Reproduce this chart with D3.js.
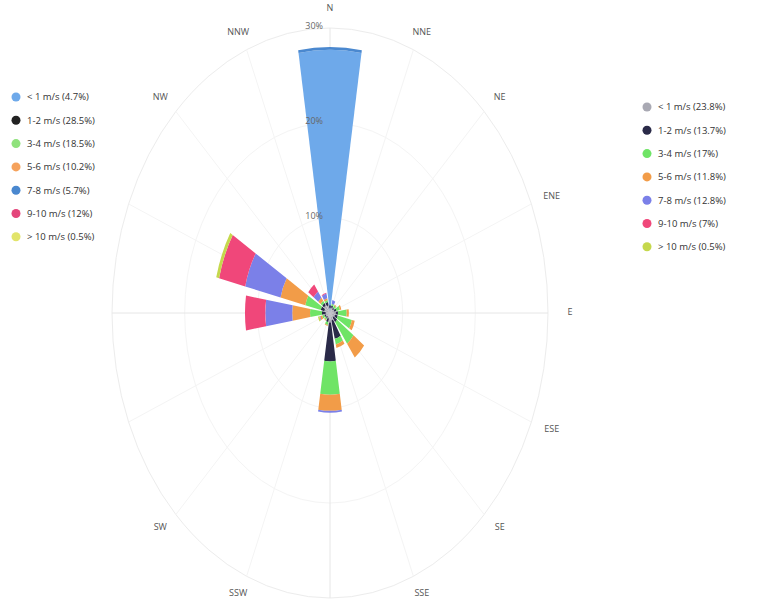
<!DOCTYPE html>
<html><head><meta charset="utf-8">
<script src="https://cdn.jsdelivr.net/npm/d3@7/dist/d3.min.js"></script>
<style>body{margin:0;background:#fff}svg{display:block;font-family:"Open Sans","DejaVu Sans",sans-serif}</style>
</head><body><svg id="c" width="757" height="601"></svg>
<script>
const directions = ["N","NNE","NE","ENE","E","ESE","SE","SSE","S","SSW","SW","WSW","W","WNW","NW","NNW"];
const shownDirLabels = ["N","NNE","NE","ENE","E","ESE","SE","SSE","SSW","SW","NW","NNW"];
const radialTicks = [10,20,30];
const radialTickLabels = ["10%","20%","30%"];

// left legend series set (A)
const seriesA = ["< 1 m/s (4.7%)","1-2 m/s (28.5%)","3-4 m/s (18.5%)","5-6 m/s (10.2%)","7-8 m/s (5.7%)","9-10 m/s (12%)","> 10 m/s (0.5%)"];
const colorsA = ["#6ea9ea","#222222","#8fe27c","#f5a25c","#4a88cf","#e4467b","#e2e46a"];
const A_lt1  = [27.7,0,0,0,0,0,0,0,0,0,0,0,0,0,0,0];
const A_1_2  = [0,0,0,0,0,0,0,0,0,0,0,0,0,0,0,0];
const A_3_4  = [0,0,0,0,0,0,0,0,0,0,0,0,0,0,0,0];
const A_5_6  = [0,0,0,0,0,0,0,0,0,0,0,0,0,0,0,0];
const A_7_8  = [0.3,0,0,0,0,0,0,0,0,0,0,0,0,0,0,0];
const A_9_10 = [0,0,0,0,0,0,0,0,0,0,0,0,0,0,0,0];
const A_gt10 = [0,0,0,0,0,0,0,0,0,0,0,0,0,0,0,0];

// right legend series set (B)
const seriesB = ["< 1 m/s (23.8%)","1-2 m/s (13.7%)","3-4 m/s (17%)","5-6 m/s (11.8%)","7-8 m/s (12.8%)","9-10 m/s (7%)","> 10 m/s (0.5%)"];
const colorsB = ["#a9a9b3","#2a2a48","#6fe466","#f29c48","#7b80e8","#f0477a","#c5d84c"];
const B_lt1  = [0.5,0.6,0.5,0.6,0.8,0.7,0.6,0.8,1.0,0.6,0.5,0.6,0.6,0.8,1.0,0.8];
const B_1_2  = [0.3,0.2,0.2,0.3,0.3,0.4,0.6,2.0,4.1,0.4,0.2,0.2,0.5,0.5,0.3,0.4];
const B_3_4  = [0,0.2,0.3,0.5,1.2,2.0,2.8,0.6,3.5,0.3,0.2,0.3,1.65,2.2,0.3,0.2];
const B_5_6  = [0,0,0.1,0.2,0.3,0.4,1.8,0.4,1.7,0.1,0.1,0.3,2.45,3.5,0.4,0.2];
const B_7_8  = [0,0.4,0,0,0,0,0,0,0.2,0,0,0.1,3.7,5.0,0.8,0.5];
const B_9_10 = [0,0,0,0,0,0,0,0,0,0,0,0,2.8,3.7,0.9,0.1];
const B_gt10 = [0,0,0,0,0,0,0,0,0,0,0,0.2,0,0.4,0,0];

const dataA = [A_lt1,A_1_2,A_3_4,A_5_6,A_7_8,A_9_10,A_gt10];
const dataB = [B_lt1,B_1_2,B_3_4,B_5_6,B_7_8,B_9_10,B_gt10];

const svg = d3.select("#c");
const cx = 330, cy = 313, R = 285, RX = 218;
const sx = RX / R;
const r = d3.scaleLinear().domain([0,30]).range([0,R]);
const ang = d3.scaleBand().domain(directions).range([-Math.PI/16, 2*Math.PI - Math.PI/16]).paddingInner(0.2).paddingOuter(0.1);

const g = svg.append("g").attr("transform", `translate(${cx},${cy}) scale(${sx},1)`);

// grid
g.selectAll("circle.grid").data(radialTicks).join("circle")
  .attr("r", d => r(d)).attr("fill","none").attr("stroke", d => d===30 ? "#ececec" : "#f4f4f4")
  .attr("stroke-width",1).attr("vector-effect","non-scaling-stroke");
g.selectAll("line.spoke").data(directions).join("line")
  .attr("x1",0).attr("y1",0)
  .attr("x2", (d,i) => R*Math.sin(i*Math.PI/8))
  .attr("y2", (d,i) => -R*Math.cos(i*Math.PI/8))
  .attr("stroke", (d,i) => i%4===0 ? "#e6e6e6" : "#f4f4f4")
  .attr("vector-effect","non-scaling-stroke");

const arc = d3.arc();
function drawSet(data, colors){
  const stack = d3.stack().keys(d3.range(data.length))(directions.map((d,i)=>{
    const o={dir:d}; data.forEach((s,k)=>o[k]=s[i]); return o;}));
  stack.forEach((layer,k)=>{
    g.append("g").selectAll("path").data(layer.filter(p=>p[1]-p[0]>0)).join("path")
      .attr("d", p => {
        const a0 = ang(p.data.dir);
        return arc({innerRadius:r(p[0]), outerRadius:r(p[1]), startAngle:a0, endAngle:a0+ang.bandwidth()});
      })
      .attr("fill", colors[k]);
  });
}
drawSet(dataA, colorsA);
drawSet(dataB, colorsB);

// radial tick labels
svg.append("g").selectAll("text").data(radialTicks).join("text")
  .attr("x", cx-7).attr("y", d => cy - r(d) + 1)
  .attr("text-anchor","end").attr("font-size",9).attr("fill","#666")
  .text((d,i)=>radialTickLabels[i]);

// direction labels
const LX = 240, LY = 304;
svg.append("g").selectAll("text").data(directions.map((d,i)=>({d,i})).filter(o=>shownDirLabels.includes(o.d))).join("text")
  .attr("x", o => cx + LX*Math.sin(o.i*Math.PI/8))
  .attr("y", o => cy - LY*Math.cos(o.i*Math.PI/8))
  .attr("text-anchor","middle").attr("dominant-baseline","middle")
  .attr("font-size",9).attr("fill","#555").text(o=>o.d);

// legends
function legend(x, y0, names, colors){
  const lg = svg.append("g").attr("transform",`translate(${x},${y0})`);
  const it = lg.selectAll("g").data(names).join("g").attr("transform",(d,i)=>`translate(0,${i*23.3})`);
  it.append("circle").attr("r",4.5).attr("fill",(d,i)=>colors[i]);
  it.append("text").attr("x",11).attr("dy","0.35em").attr("font-size",9.5).attr("fill","#333").text(d=>d);
}
legend(16, 97, seriesA, colorsA);
legend(647, 107, seriesB, colorsB);
</script></body></html>
